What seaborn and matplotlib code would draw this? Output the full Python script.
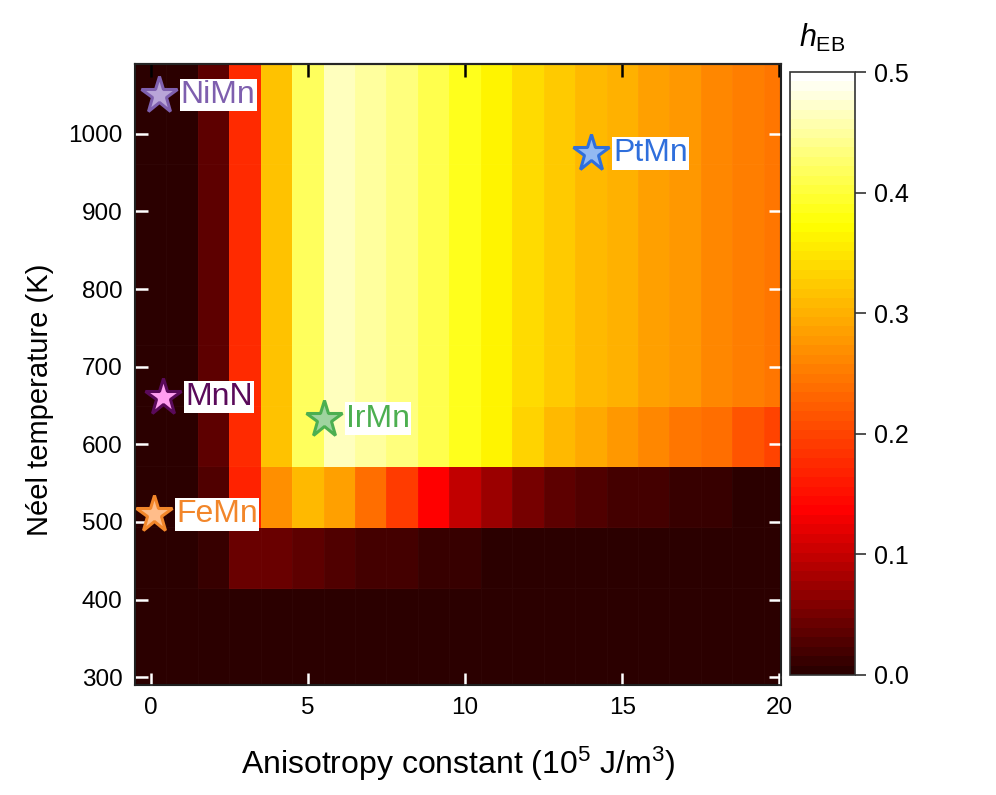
import numpy as np
import matplotlib
matplotlib.use('Agg')
import matplotlib.pyplot as plt
import seaborn as sns
from matplotlib.colors import LinearSegmentedColormap

# anisotropy constant (1e5 J/m^3), one column per value
k_const = [0, 1, 2, 3, 4, 5, 6, 7, 8, 9, 10, 11, 12, 13, 14, 15, 16, 17, 18, 19, 20]
# Neel temperature bin edges (K)
tn_edges = [290, 415.6, 493, 571.6, 649, 727.8, 961, 1090]

# h_EB per temperature band, bottom to top
h_row0 = [0.0, 0.0, 0.0, 0.0, 0.0, 0.0, 0.0, 0.0, 0.0, 0.0, 0.0,
          0.0, 0.0, 0.0, 0.0, 0.0, 0.0, 0.0, 0.0, 0.0, 0.0]
h_row1 = [0.0, 0.0, 0.014, 0.041, 0.043, 0.038, 0.031, 0.023, 0.016, 0.013, 0.009,
          0.006, 0.006, 0.006, 0.006, 0.004, 0.004, 0.004, 0.004, 0.004, 0.004]
h_row2 = [0.0, 0.0, 0.028, 0.166, 0.271, 0.305, 0.287, 0.241, 0.189, 0.136, 0.096,
          0.071, 0.051, 0.038, 0.030, 0.023, 0.018, 0.012, 0.009, 0.006, 0.004]
h_row3 = [0.0, 0.0, 0.032, 0.174, 0.320, 0.415, 0.462, 0.450, 0.430, 0.410, 0.384,
          0.360, 0.334, 0.312, 0.294, 0.278, 0.263, 0.248, 0.236, 0.216, 0.202]
h_row4 = [0.0, 0.0, 0.032, 0.174, 0.320, 0.415, 0.465, 0.450, 0.430, 0.410, 0.385,
          0.362, 0.339, 0.324, 0.309, 0.298, 0.287, 0.275, 0.264, 0.255, 0.245]
h_row5 = [0.0, 0.0, 0.032, 0.174, 0.320, 0.415, 0.465, 0.450, 0.430, 0.410, 0.385,
          0.362, 0.339, 0.324, 0.309, 0.298, 0.287, 0.275, 0.264, 0.255, 0.245]
h_row6 = [0.0, 0.0, 0.032, 0.174, 0.320, 0.415, 0.465, 0.450, 0.430, 0.410, 0.385,
          0.362, 0.339, 0.324, 0.309, 0.298, 0.287, 0.275, 0.264, 0.255, 0.245]

# materials marked on the map
materials = ['NiMn', 'MnN', 'FeMn', 'IrMn', 'PtMn']
mat_k = [0.25, 0.38, 0.1, 5.5, 14.0]
mat_tn = [1050, 661, 510, 633, 975]
mat_edge = ['#7e5fae', '#5a0a5a', '#f2862a', '#4caf50', '#2f6fdc']
mat_face = ['#b9a5d8', '#ff9ef0', '#ffbd8a', '#9fd49f', '#93b9f2']

sns.set_theme(style='ticks')
plt.rcParams['font.family'] = ['Liberation Sans', 'DejaVu Sans']
plt.rcParams['mathtext.fontset'] = 'custom'
plt.rcParams['mathtext.rm'] = 'Liberation Sans'
plt.rcParams['mathtext.it'] = 'Liberation Sans:italic'
plt.rcParams['mathtext.default'] = 'regular'
plt.rcParams['text.color'] = 'black'
plt.rcParams['axes.labelcolor'] = 'black'
plt.rcParams['xtick.labelcolor'] = 'black'
plt.rcParams['ytick.labelcolor'] = 'black'

cmap = LinearSegmentedColormap.from_list(
    'heb', [(0.0, '#2b0000'), (0.27, '#ff0000'), (0.75, '#ffff00'), (1.0, '#ffffff')], N=64)

h = np.array([h_row0, h_row1, h_row2, h_row3, h_row4, h_row5, h_row6])
x_edges = np.append(np.array(k_const) - 0.5, k_const[-1] + 0.5)

fig = plt.figure(figsize=(9.96, 7.95), dpi=100)
ax = fig.add_axes([135 / 996, 1 - 685 / 795, 646 / 996, 621 / 795])
mesh = ax.pcolormesh(x_edges, tn_edges, h, cmap=cmap, vmin=0, vmax=0.5, shading='flat',
                     edgecolors=(1, 1, 1, 0.025), linewidth=0.5)
ax.set_axisbelow(False)

for name, k, t, ec, fc in zip(materials, mat_k, mat_tn, mat_edge, mat_face):
    ax.plot(k, t, marker='*', ms=28, mfc=fc, mec=ec, mew=2.2, ls='none', zorder=5)
    ax.annotate(name, (k, t), xytext=(16, 0), textcoords='offset points',
                ha='left', va='center', fontsize=23, color=ec, zorder=6,
                bbox=dict(facecolor='white', edgecolor='none', pad=1))

ax.set_xlim(-0.5, 20.05)
ax.set_ylim(290, 1090)
ax.set_xticks([0, 5, 10, 15, 20])
ax.set_yticks([300, 400, 500, 600, 700, 800, 900, 1000])
ax.tick_params(axis='both', direction='in', color='white', length=9, width=1.8,
               right=True, labelsize=17.5, pad=9)
ax.tick_params(axis='x', top=False)
for sp in ax.spines.values():
    sp.set_color('black')
    sp.set_linewidth(1.5)

# black ticks along the top edge
ax_top = ax.twiny()
ax_top.set_xlim(ax.get_xlim())
ax_top.set_xticks([0, 5, 10, 15, 20])
ax_top.tick_params(axis='x', direction='in', color='black', length=9, width=1.8,
                   labeltop=False)
ax_top.spines['top'].set_linewidth(1.5)

ax.set_xlabel(r'Anisotropy constant (10$^5$ J/m$^3$)', fontsize=23, labelpad=18)
ax.set_ylabel('Néel temperature (K)', fontsize=21)
ax.yaxis.set_label_coords(-0.125, 0.46)

cax = fig.add_axes([790 / 996, 1 - 675 / 795, 65 / 996, 603 / 795])
cb = fig.colorbar(mesh, cax=cax)
cb.set_ticks([0.0, 0.1, 0.2, 0.3, 0.4, 0.5])
cb.ax.set_yticklabels(['0.0', '0.1', '0.2', '0.3', '0.4', '0.5'])
cb.ax.tick_params(direction='out', length=8, width=1.2, color='#333333', labelsize=18, pad=6)
cb.outline.set_edgecolor('#333333')
cb.outline.set_linewidth(1.2)
cax.set_title(r'$\mathit{h}_{\rm EB}$', fontsize=22, pad=18)

fig.savefig('out.png', dpi=100)
